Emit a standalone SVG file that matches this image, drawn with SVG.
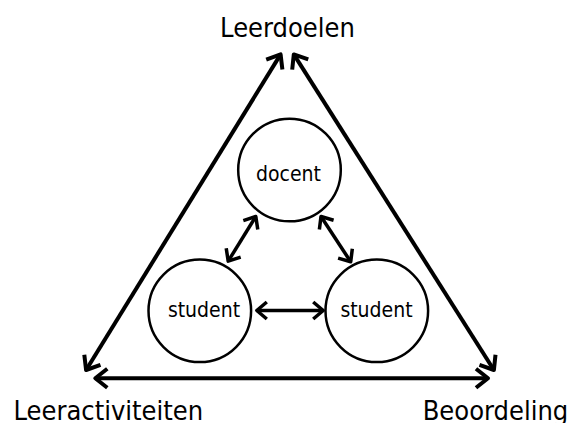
<svg xmlns="http://www.w3.org/2000/svg" width="572" height="423" viewBox="0 0 572 423">
<style>
.lbl{font-family:"DejaVu Sans Condensed","DejaVu Sans",Verdana,sans-serif;font-size:27px;fill:#000}
.nt{font-family:"DejaVu Sans Condensed","DejaVu Sans",Verdana,sans-serif;font-size:21px;fill:#000;text-anchor:middle}
.node{fill:#fff;stroke:#000;stroke-width:2.5}
.outer{stroke:#000;stroke-width:4;fill:none;marker-start:url(#ao);marker-end:url(#ao)}
.inner{stroke:#000;stroke-width:3.5;fill:none;marker-start:url(#ai);marker-end:url(#ai)}
</style>
<defs>
<marker id="ao" markerUnits="userSpaceOnUse" viewBox="-16 -12 20 24" refX="0" refY="0" markerWidth="20" markerHeight="24" orient="auto-start-reverse">
<path d="M-12,-9.5 L0,0 L-12,9.5" fill="none" stroke="#000" stroke-width="4" stroke-linejoin="round" stroke-linecap="butt"/>
</marker>
<marker id="ai" markerUnits="userSpaceOnUse" viewBox="-16 -12 20 24" refX="0" refY="0" markerWidth="20" markerHeight="24" orient="auto-start-reverse">
<path d="M-10,-8.5 L0,0 L-10,8.5" fill="none" stroke="#000" stroke-width="3.5" stroke-linejoin="round" stroke-linecap="butt"/>
</marker>
</defs>
<rect width="572" height="423" fill="#fff"/>
<g id="connectors">
<line class="outer" x1="280.6" y1="54.4" x2="86.1" y2="370"/>
<line class="outer" x1="293.8" y1="54.4" x2="493.9" y2="370"/>
<line class="outer" x1="488" y1="378.3" x2="95.3" y2="378.3"/>
<line class="inner" x1="255.8" y1="216.5" x2="228.2" y2="261.2"/>
<line class="inner" x1="321" y1="216.5" x2="350.7" y2="261.8"/>
<line class="inner" x1="256.8" y1="310.5" x2="323.2" y2="310.5"/>
</g>
<g id="docent">
<circle class="node" cx="289.5" cy="170" r="51.3"/>
<text class="nt" x="288.5" y="180.5">docent</text>
</g>
<g id="student-left">
<circle class="node" cx="199.8" cy="310.8" r="51.3"/>
<text class="nt" x="204" y="316.5">student</text>
</g>
<g id="student-right">
<circle class="node" cx="376.8" cy="310.8" r="51.3"/>
<text class="nt" x="376.5" y="316.5">student</text>
</g>
<g id="leerdoelen"><text class="lbl" x="287.5" y="37" text-anchor="middle">Leerdoelen</text></g>
<g id="leeractiviteiten"><text class="lbl" x="108.3" y="420" text-anchor="middle">Leeractiviteiten</text></g>
<g id="beoordeling"><text class="lbl" x="422.7" y="420">Beoordeling</text></g>
</svg>
